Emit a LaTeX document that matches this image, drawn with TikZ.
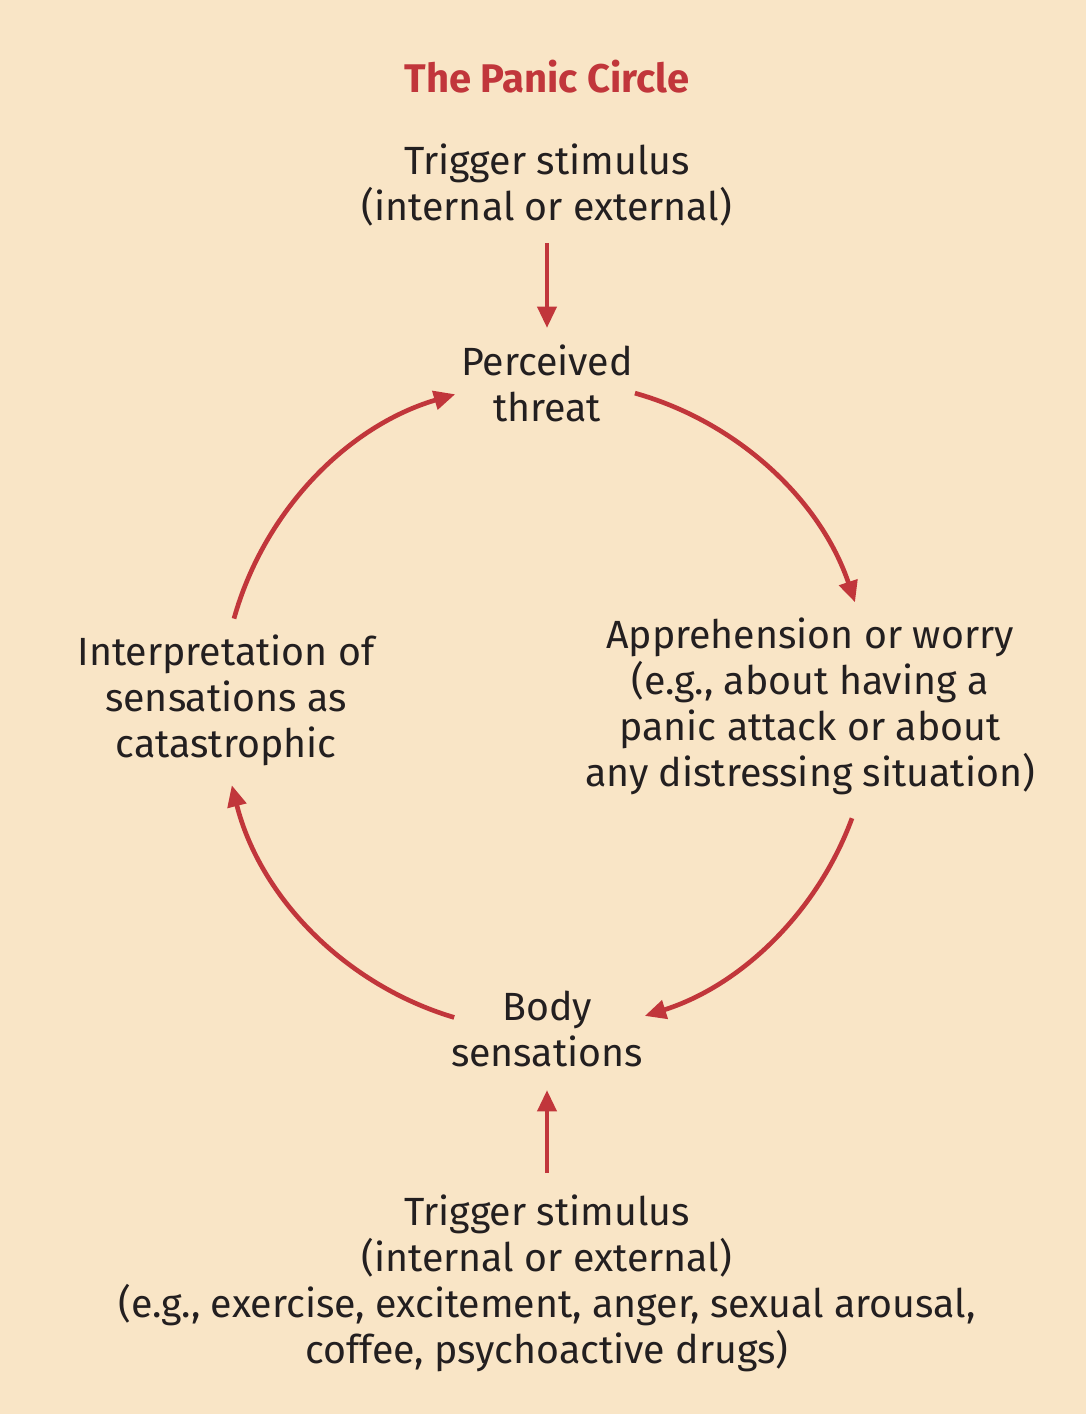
\documentclass[tikz,border=0pt]{standalone}
\usepackage{fontspec}
\setmainfont{Fira Sans}
\usetikzlibrary{arrows.meta}
\definecolor{bg}{HTML}{F9E5C6}
\definecolor{red}{HTML}{C1363B}
\definecolor{txt}{HTML}{231F20}
\begin{document}
\begin{tikzpicture}[x=0.75pt,y=-0.75pt,
  lbl/.style={align=center,text=txt,font=\fontsize{29.5}{34.5}\selectfont,inner sep=0pt},
  arr/.style={draw=red,line width=3.5pt,-{Triangle[length=16pt,width=14pt]}}]
\fill[bg] (0,0) rectangle (1086,1414);
\useasboundingbox (0,0) rectangle (1086,1414);
\node[text=red,font=\fontsize{30}{34}\selectfont\bfseries,inner sep=0pt] (title) at (547,77) {The Panic Circle};
\node[lbl] (trig1) at (547,185) {Trigger stimulus\\(internal or external)};
\node[lbl] (perc) at (547,383) {Perceived\\threat};
\node[lbl] (appr) at (810,706) {Apprehension or worry\\(e.g., about having a\\panic attack or about\\any distressing situation)};
\node[lbl] (interp) at (226,700) {Interpretation of\\sensations as\\catastrophic};
\node[lbl] (body) at (547,1029) {Body\\sensations};
\node[lbl] (trig2) at (547,1283) {Trigger stimulus\\(internal or external)\\(e.g., exercise, excitement, anger, sexual arousal,\\coffee, psychoactive drugs)};
\coordinate (c) at (547,706);
\coordinate (t1s) at (547,243);
\coordinate (pn) at (547,328);
\coordinate (t2n) at (547,1173);
\coordinate (bs) at (547,1090);
\draw[arr] (t1s) -- (pn);
\draw[arr] (t2n) -- (bs);
\draw[arr] (c) ++(74.3:243.75pt) arc[start angle=74.3,end angle=18.6,radius=243.75pt];
\draw[arr] (c) ++(-20.2:243.75pt) arc[start angle=-20.2,end angle=-72.5,radius=243.75pt];
\draw[arr] (c) ++(-106.6:243.75pt) arc[start angle=-106.6,end angle=-165.9,radius=243.75pt];
\draw[arr] (c) ++(164.4:243.75pt) arc[start angle=164.4,end angle=106.4,radius=243.75pt];
\end{tikzpicture}
\end{document}
